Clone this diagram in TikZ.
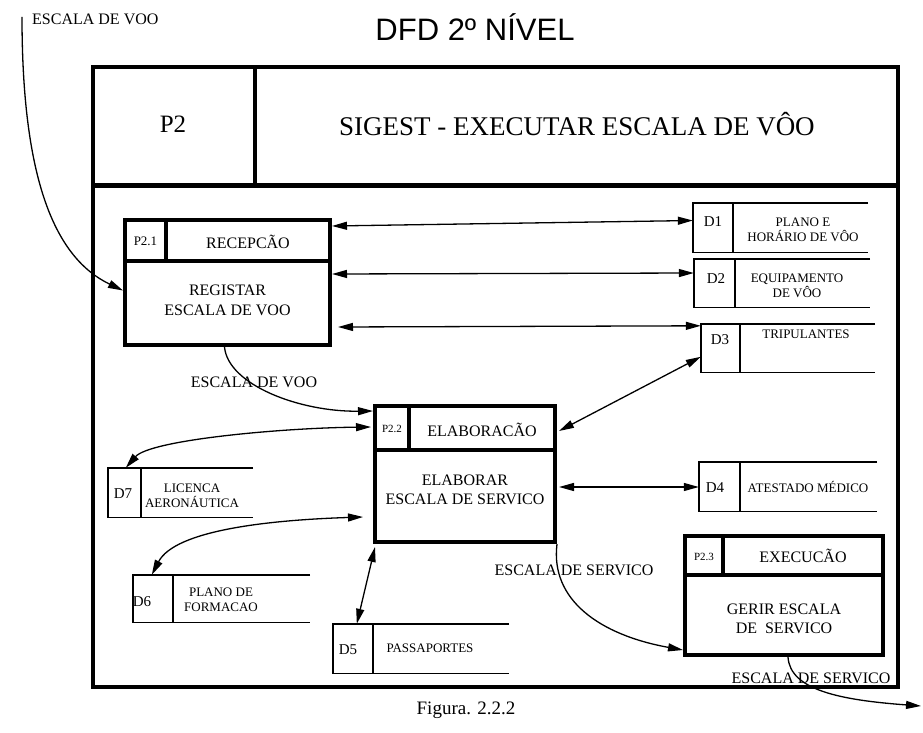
\documentclass[tikz,border=0pt]{standalone}
\usepackage{fontspec}
\setmainfont{Liberation Serif}
\newfontfamily\titlefont{Liberation Sans}
\usetikzlibrary{arrows.meta,calc}
\tikzset{
  frame/.style={draw, line width=4.5pt, rectangle, inner sep=0pt},
  proc/.style={draw, line width=4pt, rectangle, inner sep=0pt},
  procdiv/.style={line width=3.5pt},
  store/.style={rectangle, inner sep=0pt},
  storeline/.style={line width=1.4pt},
  tip/.tip={Triangle[length=15pt,width=8pt]},
  flow/.style={line width=1.3pt, -tip},
  bflow/.style={line width=1.3pt, tip-tip},
  ptxt/.style={font=\fontsize{16}{19.5}\selectfont, align=center, inner sep=0pt},
  pid/.style={font=\fontsize{13}{15}\selectfont, inner sep=0pt},
  stxt/.style={font=\fontsize{13}{15.5}\selectfont, align=center, inner sep=0pt},
  sid/.style={font=\fontsize{15}{17}\selectfont, inner sep=0pt},
  lbl/.style={font=\fontsize{16}{19}\selectfont, inner sep=0pt},
}
\begin{document}
\begin{tikzpicture}[x=1pt,y=-1pt]
\useasboundingbox (0,0) rectangle (923,733);
% title and caption
\node[font=\titlefont\fontsize{31}{36}\selectfont, inner sep=0pt] (title) at (475,27) {DFD 2º NÍVEL};
\node[font=\fontsize{19}{22}\selectfont, inner sep=0pt] (caption) at (466,710) {Figura. 2.2.2};
% outer frame
\node[frame, minimum width=805pt, minimum height=620pt] (frm) at (495.5,377) {};
\draw[line width=5pt] (93,185) -- (898,185);
\draw[line width=4pt] (255,67) -- (255,185);
\node[font=\fontsize{25}{30}\selectfont, inner sep=0pt] (ptitle) at (173,124) {P2};
\node[font=\fontsize{27}{32}\selectfont, inner sep=0pt] (htitle) at (577,124) {SIGEST - EXECUTAR ESCALA DE VÔO};
% process P2.1
\node[proc, minimum width=205pt, minimum height=125pt] (p21) at (227.5,282.5) {};
\draw[procdiv] (125,261) -- (330,261);
\draw[procdiv] (166,220) -- (166,261);
\node[pid] (p21id) at (145.5,241) {P2.1};
\node[ptxt] (p21n) at (248,242) {RECEPCÃO};
\node[ptxt] (p21t) at (227.5,300.5) {REGISTAR\\ESCALA DE VOO};
% process P2.2
\node[proc, minimum width=180pt, minimum height=136pt] (p22) at (465,474) {};
\draw[procdiv] (375,450) -- (555,450);
\draw[procdiv] (409,406) -- (409,450);
\node[pid, font=\fontsize{11}{13}\selectfont] (p22id) at (392,429) {P2.2};
\node[ptxt] (p22n) at (482,430) {ELABORACÃO};
\node[ptxt] (p22t) at (465,490) {ELABORAR\\ESCALA DE SERVICO};
% process P2.3
\node[proc, minimum width=198pt, minimum height=119pt] (p23) at (784,595.5) {};
\draw[procdiv] (685,575) -- (883,575);
\draw[procdiv] (723,536) -- (723,575);
\node[pid, font=\fontsize{11}{13}\selectfont] (p23id) at (704,557) {P2.3};
\node[ptxt] (p23n) at (803,556) {EXECUCÃO};
\node[ptxt] (p23t) at (784,619) {GERIR ESCALA\\DE\ \ SERVICO};
% data stores
\node[store, minimum width=175pt, minimum height=49pt] (d1) at (780.5,227.5) {};
\node[store, minimum width=176pt, minimum height=48pt] (d2) at (782,283) {};
\node[store, minimum width=174pt, minimum height=48pt] (d3) at (788,348) {};
\node[store, minimum width=178pt, minimum height=49pt] (d4) at (788,486.5) {};
\node[store, minimum width=145pt, minimum height=49pt] (d7) at (180.5,492.5) {};
\node[store, minimum width=177pt, minimum height=47pt] (d6) at (221.5,598.5) {};
\node[store, minimum width=176pt, minimum height=49pt] (d5) at (421,648.5) {};
\foreach \d/\w in {d1/40,d2/41,d3/39,d4/41,d7/33,d6/40,d5/40}{
  \draw[storeline] (\d.north east) -- (\d.north west) -- (\d.south west) -- (\d.south east);
  \draw[storeline] ($(\d.north west)+(\w,0)$) -- ($(\d.south west)+(\w,0)$);
}
\node[sid] (d1id) at (713,222) {D1};
\node[stxt] (d1t) at (803,230) {PLANO E\\HORÁRIO DE VÔO};
\node[sid] (d2id) at (716,279) {D2};
\node[stxt] (d2t) at (797,286) {EQUIPAMENTO\\DE VÔO};
\node[sid] (d3id) at (720,340) {D3};
\node[stxt] (d3t) at (806,334) {TRIPULANTES};
\node[sid] (d4id) at (715,488) {D4};
\node[stxt] (d4t) at (808,487) {ATESTADO MÉDICO};
\node[sid] (d7id) at (123,494) {D7};
\node[stxt] (d7t) at (192,496) {LICENCA\\AERONÁUTICA};
\node[sid] (d6id) at (142,602) {D6};
\node[stxt] (d6t) at (221,600) {PLANO DE\\FORMACAO};
\node[sid] (d5id) at (348,650) {D5};
\node[stxt] (d5t) at (430,648) {PASSAPORTES};
% connectors
\coordinate (src) at (22,17);
\coordinate (sink) at (921,706);
\draw[flow] (src) .. controls (22,180) and (55,258) .. ($(p21.west)+(0,8)$);
\node[lbl, anchor=west] (l1) at (32,19) {ESCALA DE VOO};
\draw[bflow] ($(p21.north east)+(0,8)$) -- ($(d1.west)+(0,-7)$);
\draw[bflow] ($(p21.north east)+(0,56)$) -- ($(d2.west)+(0,-10)$);
\draw[bflow] ($(p21.north east)+(6,109)$) -- ($(d3.north west)+(0,2)$);
\draw[flow] ($(p21.south)+(-3,0)$) .. controls (228,385) and (300,412) .. ($(p22.north west)+(0,7)$);
\node[lbl] (l2) at (254,382) {ESCALA DE VOO};
\draw[bflow] ($(d3.north west)+(0,33)$) -- ($(p22.north east)+(2,27)$);
\draw[bflow] ($(p22.north west)+(-2,23)$) .. controls (280,428) and (150,440) .. ($(d7.north west)+(18,0)$);
\draw[bflow] ($(p22.west)+(-10,43)$) .. controls (270,520) and (175,530) .. ($(d6.north west)+(19,0)$);
\draw[bflow] ($(p22.south west)+(2,3)$) -- ($(d5.north west)+(24,0)$);
\draw[bflow] ($(p22.east)+(2,13)$) -- ($(d4.west)+(0,0.5)$);
\draw[flow] (p22.south east) .. controls (550,600) and (600,635) .. ($(p23.south west)+(0,-7)$);
\node[lbl] (l3) at (574,570) {ESCALA DE SERVICO};
\draw[flow] ($(p23.south)+(4,0)$) .. controls (790,690) and (840,700) .. (sink);
\node[lbl] (l4) at (811,678) {ESCALA DE SERVICO};
\end{tikzpicture}
\end{document}
